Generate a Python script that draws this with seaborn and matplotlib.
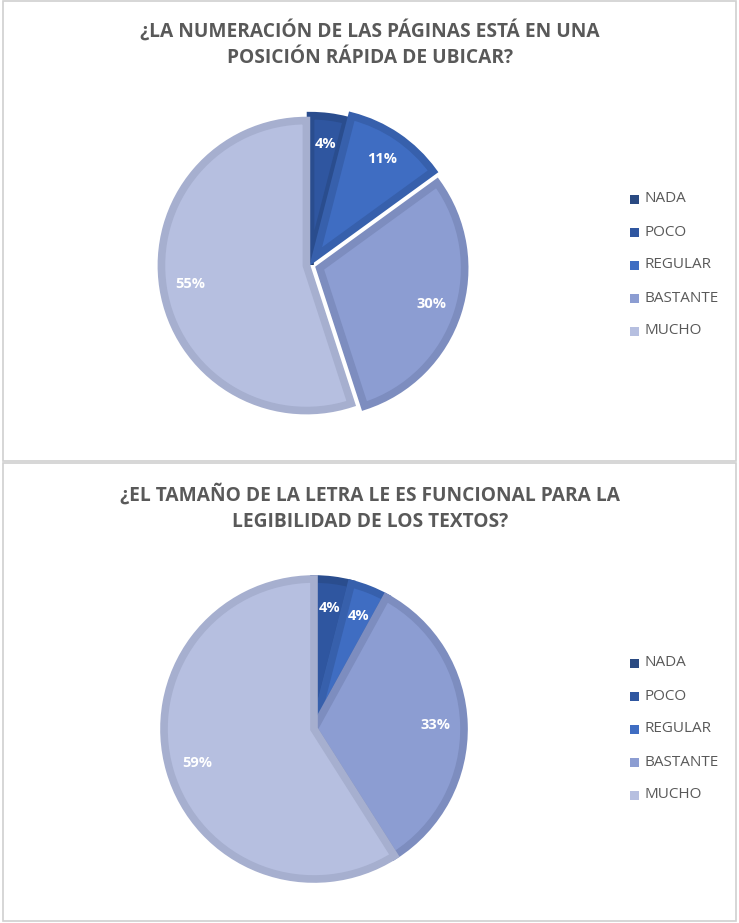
import matplotlib
matplotlib.use("Agg")
import matplotlib.pyplot as plt
import seaborn as sns
import numpy as np
from matplotlib.patches import Rectangle

sns.set_theme(style="white")
plt.rcParams['font.family'] = ['Open Sans', 'DejaVu Sans']

categories = ["NADA", "POCO", "REGULAR", "BASTANTE", "MUCHO"]
top_title = "¿LA NUMERACIÓN DE LAS PÁGINAS ESTÁ EN UNA\nPOSICIÓN RÁPIDA DE UBICAR?"
top_values = [0, 4, 11, 30, 55]
bottom_title = "¿EL TAMAÑO DE LA LETRA LE ES FUNCIONAL PARA LA\nLEGIBILIDAD DE LOS TEXTOS?"
bottom_values = [0, 4, 4, 33, 59]

face_colors = ["#2A4A82", "#2F56A0", "#3F6DC2", "#8C9DD2", "#B6BFE0"]
edge_colors = ["#243F70", "#2A4D8E", "#3760AC", "#7D8DBF", "#A6AFCF"]

W, H = 739, 923
fig = plt.figure(figsize=(W / 100, H / 100), dpi=100)
fig.patch.set_facecolor("white")

# panel frames
for (y0, y1) in [(1, 461), (463, 921)]:
    fig.add_artist(Rectangle((3 / W, 1 - y1 / H), 733 / W, (y1 - y0) / H,
                             transform=fig.transFigure, fill=False,
                             edgecolor="#D0D0D0", linewidth=1.2))


def draw_panel(values, title, title_y, cx, cy, r_px, explode, legend_y0):
    half = 1.25 * r_px
    ax = fig.add_axes([(cx - half) / W, 1 - (cy + half) / H, 2 * half / W, 2 * half / H])
    ax.set_xlim(-1.25, 1.25)
    ax.set_ylim(-1.25, 1.25)
    ax.set_aspect("equal")
    ax.axis("off")
    wedges, _ = ax.pie(values, colors=face_colors, startangle=90, counterclock=False,
                       explode=explode, radius=1.0,
                       wedgeprops=dict(linewidth=5.5, joinstyle="miter"))
    for w, ec in zip(wedges, edge_colors):
        w.set_edgecolor(ec)
    # percentage labels
    total = sum(values)
    start = 90.0
    for v, ex in zip(values, explode):
        if v == 0:
            continue
        ang = start - 360.0 * v / total / 2
        start -= 360.0 * v / total
        d = 0.81 + ex
        ax.text(d * np.cos(np.radians(ang)), d * np.sin(np.radians(ang)),
                f"{v}%", ha="center", va="center", color="white",
                fontsize=10.5, fontweight="bold")
    fig.text(370 / W, 1 - title_y / H, title, ha="center", va="center",
             fontsize=13.8, fontweight="bold", color="#595959",
             linespacing=1.4)
    for i, name in enumerate(categories):
        y = legend_y0 + i * 33
        fig.add_artist(Rectangle((630 / W, 1 - (y + 4.5) / H), 9 / W, 9 / H,
                                 transform=fig.transFigure,
                                 facecolor=face_colors[i], edgecolor="none"))
        fig.text(644 / W, 1 - y / H, name, ha="left", va="center",
                 fontsize=11, color="#595959")


draw_panel(top_values, top_title, 44, 310, 265, 145,
           [0, 0.03, 0.07, 0.07, 0.025], 199)
draw_panel(bottom_values, bottom_title, 508, 314, 729, 150,
           [0, 0, 0, 0, 0], 663)

fig.savefig("out.png", dpi=100, facecolor="white")
